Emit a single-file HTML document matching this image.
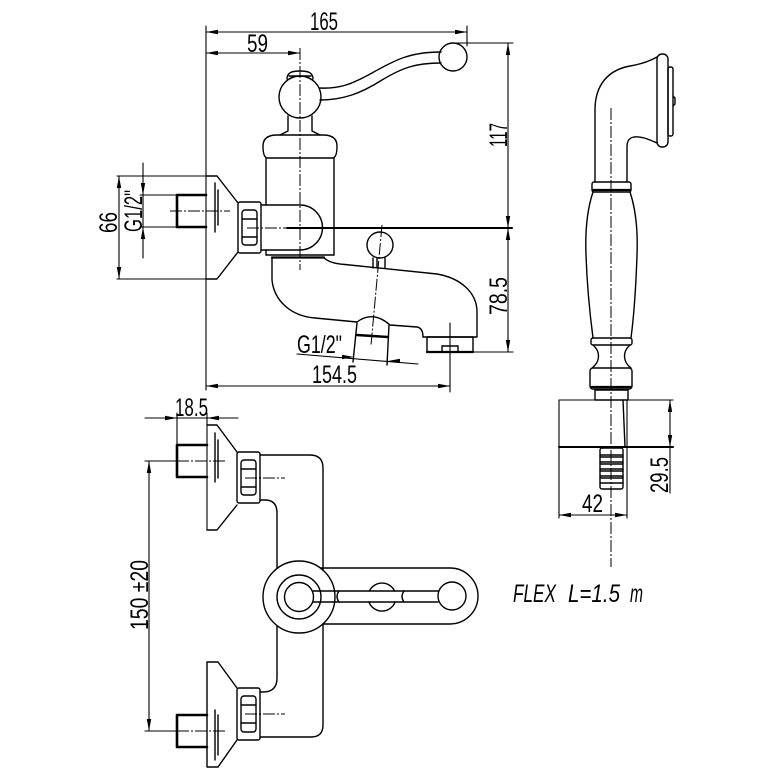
<!DOCTYPE html>
<html><head><meta charset="utf-8"><style>
html,body{margin:0;padding:0;background:#fff;}
svg{display:block}
text{font-family:"Liberation Sans Narrow","Liberation Sans",sans-serif;font-size:25px;fill:#000;stroke:none}
</style></head><body>
<svg width="778" height="778" viewBox="0 0 778 778" xmlns="http://www.w3.org/2000/svg">
<rect width="778" height="778" fill="#fff"/>
<g fill="none" stroke="#000" stroke-width="1.4" stroke-linejoin="round" stroke-linecap="round">

<g stroke-width="1.1">
<line x1="206" y1="26" x2="206" y2="390"/>
<line x1="206" y1="32" x2="467" y2="32"/>
<line x1="467" y1="26" x2="467" y2="46"/>
<line x1="206" y1="53" x2="300" y2="53"/>
<line x1="455" y1="43" x2="513" y2="43"/>
<line x1="508" y1="43" x2="508" y2="352"/>
<line x1="470" y1="352" x2="513" y2="352"/>
<line x1="117" y1="176" x2="217" y2="176"/>
<line x1="117" y1="279" x2="217" y2="279"/>
<line x1="119" y1="176" x2="119" y2="279"/>
<line x1="143" y1="163" x2="143" y2="258"/>
<line x1="140" y1="195" x2="177" y2="195"/>
<line x1="140" y1="227" x2="177" y2="227"/>
<line x1="206" y1="386" x2="450" y2="386"/>
<line x1="450" y1="323" x2="450" y2="392"/>
<line x1="297" y1="354" x2="418" y2="364"/>
<line x1="145" y1="418" x2="238" y2="418"/>
<line x1="177" y1="413" x2="177" y2="445"/>
<line x1="207" y1="413" x2="207" y2="530"/>
<line x1="149" y1="461" x2="149" y2="731"/>
<line x1="145" y1="461" x2="177" y2="461"/>
<line x1="145" y1="731" x2="177" y2="731"/>
<line x1="559" y1="400" x2="673" y2="400"/>
<line x1="559" y1="400" x2="559" y2="518"/>
<line x1="627" y1="400" x2="627" y2="518"/>
<line x1="670" y1="400" x2="670" y2="493"/>
<line x1="559" y1="515" x2="627" y2="515"/>
</g>

<g stroke-width="1" stroke-dasharray="12 2 2 2" stroke-linecap="butt">
<line x1="300" y1="48" x2="300" y2="270"/>
<line x1="382" y1="225" x2="371" y2="345"/>
<line x1="170" y1="211" x2="230" y2="211"/>
<line x1="247" y1="228" x2="287" y2="228"/>
<line x1="611" y1="108" x2="611" y2="567"/>
<line x1="177" y1="461" x2="227" y2="461"/>
<line x1="177" y1="731" x2="227" y2="731"/>
<line x1="245" y1="478" x2="285" y2="478"/>
<line x1="245" y1="714" x2="285" y2="714"/>
</g>
<line x1="287" y1="228" x2="512" y2="228" stroke-width="2"/>

<circle cx="300" cy="97" r="21"/>
<path d="M287,79 C287,72 293,71 300,71 C307,71 313,72 313,79"/>
<line x1="289" y1="76" x2="311" y2="76"/>
<path d="M288,116 L288,131 L280,135 M312,116 L312,131 L320,135"/>
<path d="M320,88 C340,89 352,84 372,73 C395,60 410,52 441,52"/>
<path d="M320,100 C342,100 360,94 382,80 C402,68 415,63 441,63"/>
<circle cx="453" cy="57" r="14"/>
<path d="M277,135 L323,135 Q337,135 337,146 Q337,157 333,158 L267,158 Q263,157 263,146 Q263,135 277,135 Z"/>
<line x1="266" y1="158" x2="266" y2="205"/>
<line x1="266" y1="250" x2="266" y2="255"/>
<line x1="334" y1="158" x2="334" y2="255"/>
<line x1="266" y1="255" x2="334" y2="255"/>
<line x1="272" y1="257.5" x2="324" y2="257.5" stroke-width="2.2"/>
<path d="M261,205 L300,205 A22.5,22.5 0 0 1 300,250 L261,250"/>
<rect x="238" y="202" width="23" height="51" rx="2"/>
<rect x="242" y="210" width="15" height="35" rx="3"/>
<line x1="242" y1="219" x2="257" y2="219"/>
<line x1="242" y1="237" x2="257" y2="237"/>
<path d="M206,176 L217,176 L238,203 M238,252 L217,279 L206,279"/>
<line x1="215" y1="183" x2="215" y2="232"/>
<line x1="218" y1="190" x2="218" y2="225"/>
<path d="M206,195 L177,195 L177,227 L206,227" stroke-width="2.6"/>
<path d="M323,257 C328,262 335,264 345,264.5 L437,274 C460,278 477,292 477,312 L477,337 L423,337"/>
<path d="M272,258 L272,280 C274,300 290,316 315,318 L357,322 Q373,310 390,325 L417,327 Q423,328 423,337"/>
<rect x="427" y="337" width="46" height="15"/>
<line x1="427" y1="352" x2="473" y2="352" stroke-width="2.2"/>
<rect x="442" y="346" width="16" height="6"/>
<circle cx="380" cy="245" r="13"/>
<path d="M373,258 L373,268 M385,258 L385,268 M377,258 L377,268"/>
<line x1="357" y1="323" x2="353" y2="362"/>
<line x1="389" y1="325" x2="387" y2="365"/>
<line x1="357" y1="335" x2="388" y2="337" stroke-width="2.4"/>

<path d="M207,445 L177,445 L177,477 L207,477" stroke-width="2.6"/>
<path d="M207,425 L217,425 L237,452 M237,505 L217,530 L207,530"/>
<line x1="215" y1="433" x2="215" y2="482"/>
<line x1="218" y1="440" x2="218" y2="478"/>
<rect x="237" y="452" width="23" height="51" rx="2"/>
<rect x="241" y="460" width="15" height="35" rx="3"/>
<line x1="241" y1="469" x2="256" y2="469"/>
<line x1="241" y1="487" x2="256" y2="487"/>
<path d="M260,455 L310,455 Q323,455 323,468 L323,570"/>
<path d="M260,500 L265,500 Q277,500 277,513 L277,568"/>
<path d="M277,626 L277,678 Q277,692 263,692 L260,692"/>
<path d="M323,624 L323,725 Q323,737 311,737 L260,737"/>
<path d="M207,715 L177,715 L177,747 L207,747" stroke-width="2.6"/>
<path d="M207,662 L218,662 L237,688 M237,740 L218,767 L207,767 L207,662"/>
<line x1="215" y1="710" x2="215" y2="760"/>
<line x1="218" y1="715" x2="218" y2="755"/>
<rect x="237" y="688" width="23" height="52" rx="2"/>
<rect x="241" y="696" width="15" height="36" rx="3"/>
<line x1="241" y1="705" x2="256" y2="705"/>
<line x1="241" y1="723" x2="256" y2="723"/>
<circle cx="299" cy="597" r="36"/>
<circle cx="299" cy="597" r="22"/>
<circle cx="299" cy="597" r="14.5"/>
<path d="M321,568 L450,568 A28,28 0 0 1 450,624 L323,624"/>
<line x1="313" y1="591" x2="438" y2="591"/>
<line x1="313" y1="602" x2="438" y2="602"/>
<path d="M339,591 Q335,596.5 339,602 M404,591 Q400,596.5 404,602"/>
<path d="M369.4,591 A14,14 0 0 1 394.6,591 M368.9,602 A14,14 0 0 0 395.1,602"/>
<circle cx="452" cy="596" r="14"/>

<path d="M595,182 L595,110 C595,85 608,70 630,66 C642,64 650,61 657,57"/>
<path d="M657,143 C650,140 642,136 634,137 C629,138 627,141 627,147 L627,182"/>
<rect x="657" y="54" width="11" height="93" rx="5"/>
<rect x="668" y="67" width="5" height="69" rx="2"/>
<path d="M673,96 L675,98 L675,104 L673,106"/>
<rect x="592" y="182" width="39" height="10" rx="2"/>
<line x1="593" y1="190" x2="630" y2="190" stroke-width="2.2"/>
<path d="M593,192 C587,210 585,230 586,255 C587,285 590,315 593,338 M630,192 C636,210 638,230 637,255 C636,285 634,315 631,338"/>
<rect x="591" y="338" width="41" height="7" rx="2"/>
<path d="M593,345 C601,352 600,362 592,368 M630,345 C622,352 623,362 631,368"/>
<rect x="590" y="368" width="42" height="21" rx="3"/>
<line x1="591" y1="387" x2="631" y2="387" stroke-width="2.2"/>
<rect x="595" y="390" width="33" height="10"/>
<line x1="623" y1="400" x2="625" y2="447"/>
<line x1="559" y1="447" x2="673" y2="447" stroke-width="2"/>
<rect x="600" y="448" width="23" height="41" rx="2"/>
<path d="M600,455 L623,455 M600,457 L623,457 M600,462 L623,462 M600,464 L623,464 M600,469 L623,469 M600,471 L623,471 M600,476 L623,476 M600,478 L623,478 M600,483 L623,483"/>
</g>

<g fill="#000" stroke="none">
<polygon points="206,32 218,29.8 218,34.2"/>
<polygon points="467,32 455,29.8 455,34.2"/>
<polygon points="206,53 218,50.8 218,55.2"/>
<polygon points="300,53 288,50.8 288,55.2"/>
<polygon points="508,43 505.8,55 510.2,55"/>
<polygon points="508,228 505.8,216 510.2,216"/>
<polygon points="508,228 505.8,240 510.2,240"/>
<polygon points="508,352 505.8,340 510.2,340"/>
<polygon points="119,176 116.8,188 121.2,188"/>
<polygon points="119,279 116.8,267 121.2,267"/>
<polygon points="143,195 140.8,183 145.2,183"/>
<polygon points="143,227 140.8,239 145.2,239"/>
<polygon points="206,386 218,383.8 218,388.2"/>
<polygon points="450,386 438,383.8 438,388.2"/>
<polygon points="354,357 342,354.8 342,359.2"/>
<polygon points="388,361 400,358.8 400,363.2"/>
<polygon points="177,418 165,415.8 165,420.2"/>
<polygon points="207,418 219,415.8 219,420.2"/>
<polygon points="149,461 146.8,473 151.2,473"/>
<polygon points="149,731 146.8,719 151.2,719"/>
<polygon points="670,400 667.8,412 672.2,412"/>
<polygon points="670,447 667.8,435 672.2,435"/>
<polygon points="559,515 571,512.8 571,517.2"/>
<polygon points="627,515 615,512.8 615,517.2"/>
</g>

<text x="310" y="30" textLength="28" lengthAdjust="spacingAndGlyphs">165</text>
<text x="247" y="52" textLength="21" lengthAdjust="spacingAndGlyphs">59</text>
<text transform="translate(507,147) rotate(-90)" textLength="24" lengthAdjust="spacingAndGlyphs">117</text>
<text transform="translate(507,315) rotate(-90)" textLength="38" lengthAdjust="spacingAndGlyphs">78.5</text>
<text transform="translate(117,233) rotate(-90)" textLength="21" lengthAdjust="spacingAndGlyphs">66</text>
<text transform="translate(142,232) rotate(-90)" textLength="42" lengthAdjust="spacingAndGlyphs">G1/2&quot;</text>
<text x="297" y="353" textLength="45" lengthAdjust="spacingAndGlyphs">G1/2&quot;</text>
<text x="312" y="383" textLength="45" lengthAdjust="spacingAndGlyphs">154.5</text>
<text x="175" y="416" textLength="33" lengthAdjust="spacingAndGlyphs">18.5</text>
<text transform="translate(148,630) rotate(-90)" textLength="70" lengthAdjust="spacingAndGlyphs">150 ±20</text>
<text transform="translate(668,493) rotate(-90)" textLength="36" lengthAdjust="spacingAndGlyphs">29.5</text>
<text x="582" y="512" textLength="21" lengthAdjust="spacingAndGlyphs">42</text>
<text x="513" y="602" font-size="19" font-style="italic" textLength="43" lengthAdjust="spacingAndGlyphs">FLEX</text>
<text x="568" y="602" font-size="19" font-style="italic" textLength="52" lengthAdjust="spacingAndGlyphs">L=1.5</text>
<text x="630" y="602" font-size="19" font-style="italic" textLength="13" lengthAdjust="spacingAndGlyphs">m</text>
</svg>
</body></html>
